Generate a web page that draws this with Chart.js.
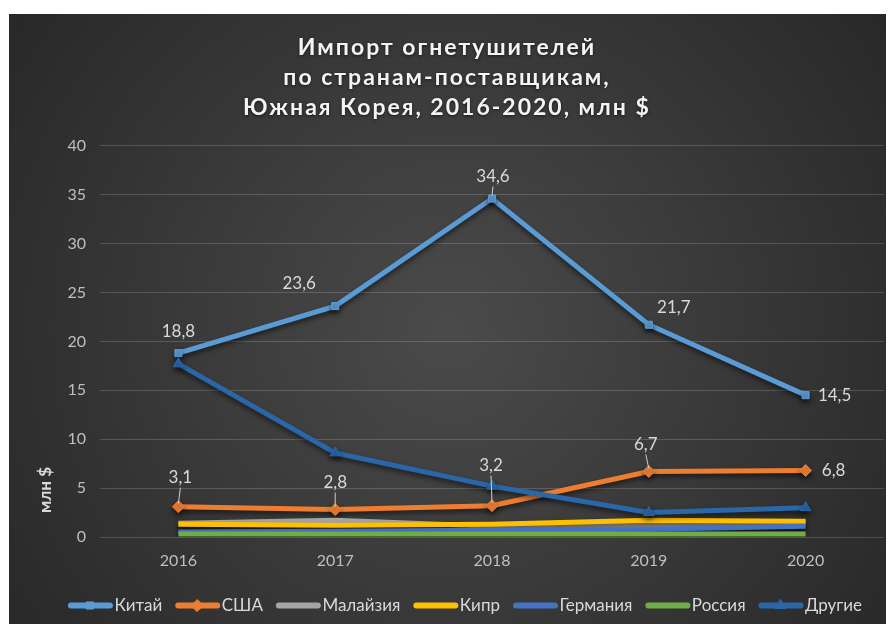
<!DOCTYPE html>
<html>
<head>
<meta charset="utf-8">
<script src="https://cdn.jsdelivr.net/npm/chart.js@4"></script>
<style>
  html, body { margin: 0; padding: 0; background: #ffffff; }
  #wrap { width: 891px; height: 624px; position: relative; }
</style>
</head>
<body>
<div id="wrap"><canvas id="c"></canvas></div>
<script>
const categories = ['2016', '2017', '2018', '2019', '2020'];
const seriesNames = ['Китай', 'США', 'Малайзия', 'Кипр', 'Германия', 'Россия', 'Другие'];
const china    = [18.8, 23.6, 34.6, 21.7, 14.5];
const usa      = [3.1, 2.8, 3.2, 6.7, 6.8];
const malaysia = [1.4, 1.7, 1.1, 1.2, 1.4];
const cyprus   = [1.3, 1.2, 1.3, 1.7, 1.6];
const germany  = [0.5, 0.6, 0.7, 0.8, 1.1];
const russia   = [0.3, 0.3, 0.3, 0.3, 0.3];
const others   = [17.7, 8.6, 5.2, 2.5, 3.0];
const yTicks   = [0, 5, 10, 15, 20, 25, 30, 35, 40];
const titleLines = ['Импорт огнетушителей', 'по странам-поставщикам,', 'Южная Корея, 2016-2020, млн $'];
const yTitle = 'млн $';

const seriesValues = [china, usa, malaysia, cyprus, germany, russia, others];
const colors = ['#5B9BD5', '#ED7D31', '#A5A5A5', '#FFC000', '#4472C4', '#70AD47', '#2A67A8'];
const markers = ['rect', 'rectRot', false, false, false, false, 'triangle'];
const markerRadius = [5, 6, 0, 0, 0, 0, 6];
const LEG_SHIFT = 18;

// label styling (offsets in px relative to the point, leader line flag)
const labelStyle = {
  0: { off: [[0,-22],[-36,-23],[1,-22],[25,-17],[29,0]], leader: [false,false,true,false,false] },
  1: { off: [[2,-29],[0,-27],[-1,-40],[-3,-27],[28,0]], leader: [true,true,true,true,false] }
};

const fmt = v => v.toFixed(1).replace('.', ',');
const FONT = 'Lato, "Open Sans", sans-serif';

const datasets = seriesNames.map((name, i) => ({
  label: name,
  data: seriesValues[i],
  borderColor: colors[i],
  backgroundColor: colors[i],
  borderWidth: 5,
  pointStyle: markers[i] || 'circle',
  pointRadius: markerRadius[i],
  pointHoverRadius: markerRadius[i],
  pointBackgroundColor: colors[i],
  pointBorderColor: colors[i],
  pointBorderWidth: 1,
  tension: 0,
  order: seriesNames.length - i
}));

const bgPlugin = {
  id: 'bg',
  beforeDraw(chart) {
    const ctx = chart.ctx;
    const W = chart.width, H = chart.height;
    ctx.save();
    ctx.fillStyle = '#ffffff';
    ctx.fillRect(0, 0, W, H);
    const g = ctx.createRadialGradient(450, 330, 10, 450, 330, 620);
    g.addColorStop(0, '#4a4a4a');
    g.addColorStop(1, '#232323');
    ctx.fillStyle = g;
    ctx.fillRect(9, 14, W - 14, H - 14);
    ctx.restore();
    const tb = chart.titleBlock;
    if (tb && !tb._wrapped) {
      const orig = tb.draw.bind(tb);
      tb.draw = function () {
        const c = this.ctx;
        c.save();
        c.letterSpacing = '2px';
        c.shadowColor = 'rgba(0,0,0,0.6)';
        c.shadowBlur = 3;
        c.shadowOffsetY = 1;
        orig.apply(null, arguments);
        c.restore();
      };
      tb._wrapped = true;
    }
    const lg = chart.legend;
    if (lg && !lg._wrapped) {
      const origL = lg.draw.bind(lg);
      lg.draw = function () {
        const c = this.ctx;
        c.save();
        c.translate(LEG_SHIFT, 0);
        origL.apply(null, arguments);
        c.restore();
      };
      lg._wrapped = true;
    }
  }
};

const shadowPlugin = {
  id: 'shadow',
  beforeDatasetDraw(chart) {
    const ctx = chart.ctx;
    ctx.save();
    ctx.shadowColor = 'rgba(0,0,0,0.55)';
    ctx.shadowBlur = 5;
    ctx.shadowOffsetY = 3;
  },
  afterDatasetDraw(chart) {
    chart.ctx.restore();
  }
};

const labelPlugin = {
  id: 'vlabels',
  afterDatasetsDraw(chart) {
    const ctx = chart.ctx;
    ctx.save();
    ctx.font = '17px ' + FONT;
    ctx.textAlign = 'center';
    ctx.textBaseline = 'middle';
    Object.keys(labelStyle).forEach(k => {
      const di = +k;
      const st = labelStyle[k];
      const meta = chart.getDatasetMeta(di);
      meta.data.forEach((pt, j) => {
        const v = chart.data.datasets[di].data[j];
        const [dx, dy] = st.off[j];
        const lx = pt.x + dx, ly = pt.y + dy;
        if (st.leader[j]) {
          ctx.strokeStyle = '#d0d0d0';
          ctx.lineWidth = 1;
          ctx.beginPath();
          ctx.moveTo(lx, ly + 10);
          ctx.lineTo(pt.x, pt.y - 3);
          ctx.stroke();
        }
        ctx.fillStyle = '#d9d9d9';
        ctx.fillText(fmt(v), lx, ly);
      });
    });
    ctx.font = 'bold 17px ' + FONT;
    ctx.fillStyle = '#d9d9d9';
    ctx.translate(46, 490);
    ctx.rotate(-Math.PI / 2);
    ctx.fillText(yTitle, 0, 0);
    ctx.restore();
  },
  afterDraw(chart) {
    const lg = chart.legend;
    if (!lg || !lg.legendHitBoxes) return;
    const ctx = chart.ctx;
    ctx.save();
    lg.legendItems.forEach((item, i) => {
      const box = lg.legendHitBoxes[i];
      const di = item.datasetIndex;
      const cy = box.top + box.height / 2;
      const bx = box.left + LEG_SHIFT;
      ctx.strokeStyle = colors[di];
      ctx.lineWidth = 6;
      ctx.lineCap = 'round';
      ctx.beginPath();
      ctx.moveTo(bx + 3, cy);
      ctx.lineTo(bx + 42, cy);
      ctx.stroke();
      if (!markers[di]) return;
      const cx = bx + 22;
      ctx.fillStyle = colors[di];
      ctx.lineWidth = 1;
      Chart.helpers.drawPoint(ctx, { pointStyle: markers[di], radius: markerRadius[di], rotation: 0, borderWidth: 1 }, cx, cy);
    });
    ctx.restore();
  }
};

new Chart(document.getElementById('c'), {
  type: 'line',
  data: { labels: categories, datasets },
  plugins: [bgPlugin, shadowPlugin, labelPlugin],
  options: {
    responsive: true,
    maintainAspectRatio: false,
    animation: false,
    layout: { padding: { top: 20, left: 10, right: 7, bottom: 0 } },
    plugins: {
      tooltip: { enabled: false },
      title: {
        display: true,
        text: titleLines,
        color: '#f4f4f4',
        font: { family: FONT, size: 23, weight: 'bold', lineHeight: 1.3 },
        padding: { top: 13, bottom: 23 }
      },
      legend: {
        position: 'bottom',
        reverse: true,
        labels: {
          color: '#d9d9d9',
          font: { family: FONT, size: 17 },
          boxWidth: 38,
          boxHeight: 6,
          padding: 13,
          generateLabels(chart) {
            const items = Chart.defaults.plugins.legend.labels.generateLabels(chart);
            items.forEach(it => {
              it.fillStyle = 'rgba(0,0,0,0)';
              it.strokeStyle = 'rgba(0,0,0,0)';
              it.lineWidth = 0;
            });
            return items;
          }
        }
      }
    },
    scales: {
      x: {
        offset: true,
        afterFit(scale) { scale.height = 47; },
        grid: { display: false, drawTicks: false },
        border: { display: false },
        ticks: { color: '#bfbfbf', font: { family: FONT, size: 16 }, padding: 14 }
      },
      y: {
        min: 0,
        max: 40,
        afterBuildTicks(scale) { scale.ticks = yTicks.map(v => ({ value: v })); },
        afterFit(scale) { scale.width = 90; },
        grid: { color: 'rgba(255,255,255,0.17)', lineWidth: 1, drawTicks: false },
        border: { display: false },
        ticks: { color: '#bfbfbf', font: { family: FONT, size: 16 }, padding: 14 }
      }
    }
  }
});
</script>
</body>
</html>
